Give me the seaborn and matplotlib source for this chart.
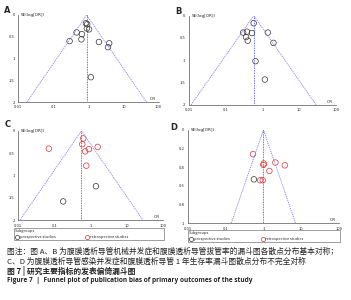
import seaborn as sns
import pandas as pd
import numpy as np
import matplotlib.pyplot as plt
from matplotlib.lines import Line2D

sns.set_style("white")
plt.rcParams['font.family'] = ['Noto Sans CJK SC', 'DejaVu Sans']

# panel A: mechanical complications
a_or = [0.85, 0.92, 0.90, 1.04, 0.46, 0.65, 0.29, 0.63, 1.99, 3.9, 3.6, 1.17]
a_se = [0.19, 0.21, 0.31, 0.33, 0.40, 0.44, 0.60, 0.56, 0.62, 0.65, 0.74, 1.43]
a_center = 0.89

# panel B: catheter removal
b_or = [0.58, 0.30, 0.38, 0.52, 0.36, 0.40, 1.41, 2.0, 0.65, 1.17]
b_se = [0.17, 0.38, 0.36, 0.39, 0.48, 0.56, 0.38, 0.61, 1.02, 1.43]
b_center = 0.58

# panel C: infection complications
c_or = [0.07, 0.63, 0.59, 0.90, 0.71, 1.57, 0.76, 1.41, 0.175]
c_se = [0.40, 0.17, 0.30, 0.41, 0.46, 0.36, 0.78, 1.24, 1.58]
c_grp = ['retro'] * 7 + ['pro'] * 2
c_center = 0.56

# panel D: 1-year catheter survival
d_or = [0.53, 1.02, 1.0, 2.07, 3.67, 1.44, 0.56, 0.82, 0.96]
d_se = [0.26, 0.36, 0.375, 0.35, 0.38, 0.44, 0.53, 0.54, 0.54]
d_grp = ['retro'] * 6 + ['pro'] + ['retro'] * 2
d_center = 1.0

x_ticks = [0.01, 0.1, 1, 10, 100]
x_labels = ['0.01', '0.1', '1', '10', '100']
y_ticks_2 = [0, 0.5, 1, 1.5, 2]
y_labels_2 = ['0', '0.5', '1', '1.5', '2']
y_ticks_1 = [0, 0.2, 0.4, 0.6, 0.8, 1]
y_labels_1 = ['0', '0.2', '0.4', '0.6', '0.8', '1']

pal = {'pro': '#333333', 'retro': '#e03030'}
funnel_col = '#8080ff'

fig = plt.figure(figsize=(3.51, 3.0), dpi=100)


def funnel(rect, ors, ses, grp, center, se_max, yt, yl):
    ax = fig.add_axes(rect)
    df = pd.DataFrame({'OR': ors, 'SE': ses, 'g': grp})
    sns.scatterplot(data=df, x='OR', y='SE', hue='g', palette=pal, ax=ax,
                    marker='o', s=16, linewidth=0.5, legend=False)
    # hollow markers, edge coloured by subgroup
    coll = ax.collections[-1]
    coll.set_edgecolors([pal[g] for g in grp])
    coll.set_facecolors('none')
    z = 1.96
    ax.plot([center * np.exp(-z * se_max), center, center * np.exp(z * se_max)],
            [se_max, 0, se_max], ls=(0, (1.5, 1)), color=funnel_col, lw=0.6)
    ax.plot([center, center], [0, se_max], ls=(0, (1, 1)), color='#4040ff', lw=0.6)
    ax.set_xscale('log')
    ax.set_xlim(0.01, 100)
    ax.set_ylim(se_max, 0)
    ax.set_xticks(x_ticks)
    ax.set_xticklabels(x_labels)
    ax.minorticks_off()
    ax.set_yticks(yt)
    ax.set_yticklabels(yl)
    ax.tick_params(labelsize=3, length=1.5, width=0.4, pad=1, color='#555555')
    for s in ['top', 'right']:
        ax.spines[s].set_visible(False)
    for s in ['left', 'bottom']:
        ax.spines[s].set_linewidth(0.5)
        ax.spines[s].set_color('#555555')
    ax.set_xlabel('')
    ax.set_ylabel('')
    ax.text(0.02, 1.0, 'SE(log[OR])', transform=ax.transAxes, fontsize=3,
            va='center', ha='left', family='DejaVu Sans')
    ax.text(0.98, 0.01, 'OR', transform=ax.transAxes, fontsize=3,
            va='bottom', ha='right', family='DejaVu Sans')
    return ax


ax_a = funnel([0.052, 0.66, 0.400, 0.29], a_or, a_se, ['pro'] * len(a_or), a_center, 2, y_ticks_2, y_labels_2)
ax_b = funnel([0.538, 0.65, 0.419, 0.298], b_or, b_se, ['pro'] * len(b_or), b_center, 2, y_ticks_2, y_labels_2)
ax_c = funnel([0.052, 0.266, 0.412, 0.298], c_or, c_se, c_grp, c_center, 2, y_ticks_2, y_labels_2)
ax_d = funnel([0.535, 0.256, 0.431, 0.311], d_or, d_se, d_grp, d_center, 1, y_ticks_1, y_labels_1)

handles = [Line2D([], [], marker='o', ls='', mfc='none', mec=pal['pro'], ms=3, mew=0.5),
           Line2D([], [], marker='o', ls='', mfc='none', mec=pal['retro'], ms=3, mew=0.5),
           Line2D([], [], ls='', marker='')]
for ax, bb in [(ax_c, (-0.04, -0.17, 1.06, 0.1)), (ax_d, (-0.01, -0.155, 1.03, 0.1))]:
    leg = ax.legend(handles, ['prospective studies', 'retrospective studies', ''],
                    title='Subgroups', loc='upper left', bbox_to_anchor=bb,
                    mode='expand', ncol=3, fontsize=2.8, title_fontsize=2.8,
                    frameon=True, fancybox=False, borderpad=0.2,
                    handletextpad=0.2, columnspacing=0.5, handlelength=1.0,
                    alignment='left')
    leg.get_frame().set_linewidth(0.5)
    leg.get_frame().set_edgecolor('#555555')

for lab, x, y in [('A', 0.012, 0.965), ('B', 0.498, 0.96), ('C', 0.012, 0.585), ('D', 0.485, 0.575)]:
    fig.text(x, y, lab, fontsize=6, fontweight='bold', family='DejaVu Sans', va='center')

cap1 = '图注：图 A、B 为腹膜透析导管机械并发症和腹膜透析导管拔管率的漏斗图各散点分布基本对称；'
cap2 = 'C、D 为腹膜透析导管感染并发症和腹膜透析导管 1 年生存率漏斗图散点分布不完全对称'
cap3 = '图 7 | 研究主要指标的发表偏倚漏斗图'
cap4 = 'Figure 7  |  Funnel plot of publication bias of primary outcomes of the study'
fig.text(0.02, 1 - 252 / 300, cap1, fontsize=5.6, va='center', color='#222222')
fig.text(0.02, 1 - 261.5 / 300, cap2, fontsize=5.6, va='center', color='#222222')
fig.text(0.02, 1 - 271 / 300, cap3, fontsize=5.6, va='center', fontweight='bold', color='#222222')
fig.text(0.02, 1 - 281 / 300, cap4, fontsize=4.7, va='center', fontweight='bold',
         family=['Open Sans', 'DejaVu Sans'], color='#222222')

fig.savefig('out.png', dpi=100)
